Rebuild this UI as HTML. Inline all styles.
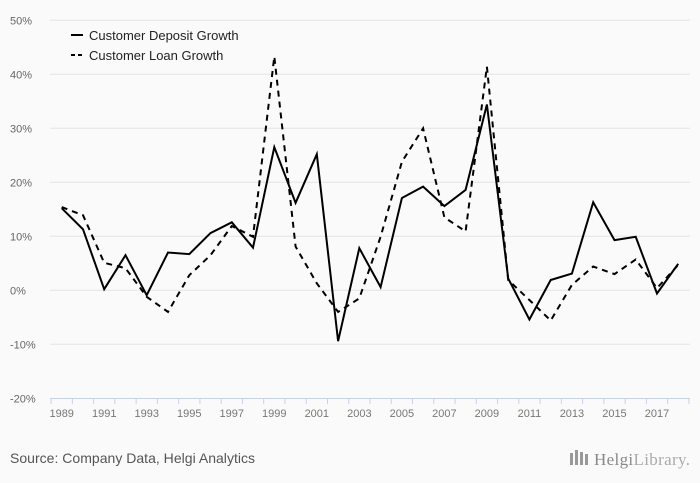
<!DOCTYPE html>
<html><head><meta charset="utf-8"><style>
html,body{margin:0;padding:0;background:#fafafa;}
body{width:700px;height:483px;overflow:hidden;font-family:"Liberation Sans",sans-serif;}
</style></head><body>
<svg id="chart" width="700" height="483" xmlns="http://www.w3.org/2000/svg" style="display:block">
<rect width="700" height="483" fill="#fafafa"/>
<g id="grid"></g><g id="yt"></g><g id="xt"></g><g id="series"></g>
<g>
<g><line x1="71" y1="35" x2="83" y2="35" stroke="#000" stroke-width="2"/><text x="89" y="40" font-size="13" fill="#222">Customer Deposit Growth</text></g>
<g><line x1="71" y1="55" x2="83" y2="55" stroke="#000" stroke-width="2" stroke-dasharray="4,3"/><text x="89" y="60" font-size="13" fill="#222">Customer Loan Growth</text></g>
</g>
<text x="10" y="463" font-size="14" fill="#555" textLength="245">Source: Company Data, Helgi Analytics</text>
<g>
<rect x="570" y="453" width="3" height="12" fill="#999"/><rect x="575" y="450" width="3" height="15" fill="#999"/><rect x="580" y="452" width="3" height="13" fill="#999"/><rect x="585" y="454" width="3" height="11" fill="#999"/>
<text x="594" y="465" font-size="17" fill="#888" font-family="Liberation Serif, serif" textLength="96">Helgi<tspan fill="#aaa">Library.</tspan></text>
</g>
</svg>
<script>
const years=[1989,1990,1991,1992,1993,1994,1995,1996,1997,1998,1999,2000,2001,2002,2003,2004,2005,2006,2007,2008,2009,2010,2011,2012,2013,2014,2015,2016,2017,2018];
const depositGrowth=[15.2,11.3,0.2,6.5,-0.9,7.0,6.7,10.6,12.6,7.9,26.5,16.2,25.2,-9.4,7.8,0.6,17.1,19.2,15.6,18.6,34.4,2.2,-5.4,1.9,3.1,16.3,9.3,9.9,-0.6,4.9];
const loanGrowth=[15.4,13.9,5.1,4.1,-1.2,-4.0,2.8,6.5,11.9,9.9,43.3,8.1,1.3,-4.0,-1.5,9.9,23.8,30.0,13.5,10.9,41.4,1.9,-1.8,-5.6,1.0,4.4,3.0,5.7,0.4,4.7];
const yTicks=[-20,-10,0,10,20,30,40,50];
const NS="http://www.w3.org/2000/svg";
const x=i=>61.7+21.26*i;
const y=v=>290.3-5.4*v;
function mk(tag,attrs,parent){const e=document.createElementNS(NS,tag);for(const k in attrs)e.setAttribute(k,attrs[k]);parent.appendChild(e);return e;}
const grid=document.getElementById('grid'),yt=document.getElementById('yt'),xt=document.getElementById('xt'),ser=document.getElementById('series');
yTicks.forEach(t=>{
  if(t>-20){const l=mk('line',{x1:50,x2:690,y1:y(t),y2:y(t),stroke:'#e3e3e3','stroke-width':1},grid);
  
  }
  const tx=mk('text',{x:10,y:y(t)+4,'font-size':11,fill:'#666'},yt);tx.textContent=t+'%';
  
  
});
const ax=mk('line',{x1:50,x2:690,y1:398.5,y2:398.5,stroke:'#c5d3ea','stroke-width':1},xt);


for(let i=0;i<=years.length;i++){const tk=mk('line',{x1:x(i)-10.6,x2:x(i)-10.6,y1:398,y2:404,stroke:'#c5d3ea'},xt);

}
years.forEach((yr,i)=>{if(i%2===0){const tx=mk('text',{x:x(i),y:417,'font-size':11,fill:'#777','text-anchor':'middle'},xt);tx.textContent=yr;

}});
const pts=a=>a.map((v,i)=>x(i).toFixed(1)+','+y(v).toFixed(1)).join(' ');
const p1=mk('polyline',{points:pts(depositGrowth),fill:'none',stroke:'#000','stroke-width':2,'stroke-linejoin':'miter'},ser);


const p2=mk('polyline',{points:pts(loanGrowth),fill:'none',stroke:'#000','stroke-width':2,'stroke-dasharray':'6,5'},ser);


</script>
</body></html>
